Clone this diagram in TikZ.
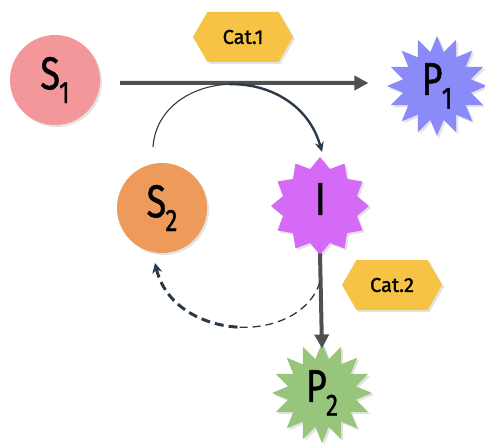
\documentclass[tikz,border=0pt]{standalone}
\usepackage{fontspec}
\setmainfont{Fira Sans}
\newfontfamily\labfont{Fira Sans}[FakeBold=1.2]
\newfontfamily\catfont{Fira Sans}[FakeBold=1.5]
\usetikzlibrary{shapes.geometric,shapes.symbols,shadows,arrows.meta}
\definecolor{sone}{HTML}{F4979B}
\definecolor{stwo}{HTML}{EE9A5B}
\definecolor{pone}{HTML}{8A8AF9}
\definecolor{inter}{HTML}{D56AF7}
\definecolor{ptwo}{HTML}{97C57C}
\definecolor{catc}{HTML}{F6C344}
\definecolor{arrg}{HTML}{505050}
\definecolor{navy}{HTML}{2B3A4A}
\newcommand{\lab}[2]{\scalebox{0.78}[1]{\labfont\fontsize{46}{46}\selectfont #1\kern-0.02em\raisebox{-0.3em}{\fontsize{31}{31}\selectfont #2}}}
\tikzset{
  shad/.style={drop shadow={opacity=0.22,shadow xshift=2pt,shadow yshift=-2pt}},
  mol/.style={circle,minimum size=90pt,inner sep=0pt,shad},
  burst/.style={star,star points=16,star point ratio=1.45,minimum size=100pt,inner sep=0pt,shad},
  cat/.style={signal,signal to=west and east,signal pointer angle=120,fill=catc,minimum width=100pt,minimum height=50pt,inner sep=0pt,font=\catfont\fontsize{20}{20}\selectfont,shad},
  mainarr/.style={draw=arrg,line width=4pt,-{Triangle[length=14pt,width=14pt]}},
}
\begin{document}
\begin{tikzpicture}[x=1pt,y=-1pt]
\useasboundingbox (0,0) rectangle (485,444);
\node[mol,fill=sone] (S1) at (55,80) {\lab{S}{1}};
\node[mol,fill=stwo] (S2) at (162,208) {\lab{S}{2}};
\node[burst,fill=pone] (P1) at (437,86) {\lab{P}{1}};
\node[star,star points=12,star point ratio=1.28,minimum size=98pt,inner sep=0pt,shad,fill=inter] (I) at (320,206) {\lab{I}{}};
\node[burst,fill=ptwo] (P2) at (322,393) {\lab{P}{2}};
\node[cat] (C1) at (243,37) {Cat.1};
\node[cat] (C2) at (392,285) {Cat.2};
% main arrows
\draw[mainarr] ([xshift=20pt,yshift=-3pt]S1.east) -- ([xshift=-18pt,yshift=3pt]P1.west);
\draw[mainarr] ([yshift=2pt]I.south) -- ([yshift=-6pt]P2.north);
% curved solid arrow from S2 to I
\coordinate (a0) at (153,147);
\coordinate (am) at (229.25,84.25);
\coordinate (a1) at (322,152);
\draw[navy,line width=1.1pt] (a0) .. controls (155.5,108.5) and (191,85.5) .. (am);
\draw[navy,line width=2.4pt,-{Stealth[length=10pt,width=9pt]}] (am) .. controls (267.5,83) and (308.5,103.5) .. (a1);
% dashed return arrow from I to S2
\coordinate (b0) at (320,282);
\coordinate (bm) at (237.5,327.1);
\coordinate (b1) at (155,263);
\draw[navy,line width=1.3pt,dash pattern=on 8pt off 5pt] (b0) .. controls (310,313.5) and (273.75,329.25) .. (bm);
\draw[navy,line width=3pt,dash pattern=on 9pt off 5pt,-{Stealth[length=10pt,width=10pt]}] (bm) .. controls (201.25,325) and (165,305) .. (b1);
\end{tikzpicture}
\end{document}
